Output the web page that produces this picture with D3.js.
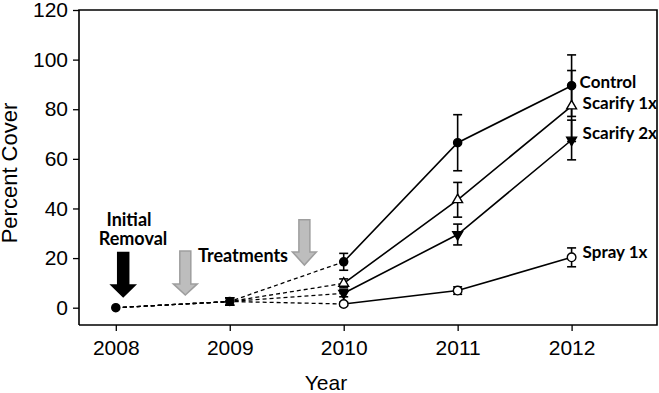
<!DOCTYPE html>
<html>
<head>
<meta charset="utf-8">
<script src="https://cdn.jsdelivr.net/npm/d3@7"></script>
<style>
  body { margin: 0; background: #fff; }
  svg { display: block; }
  .axis text { font-family: "Liberation Sans", Arial, sans-serif; font-size: 21px; fill: #000; }
  .axis line { stroke: #000; stroke-width: 1.3; }
  .note { font-family: Lato, "Open Sans", sans-serif; font-weight: bold; font-size: 18px; fill: #000; }
  .label { font-family: Lato, "Open Sans", sans-serif; font-weight: bold; font-size: 17px; fill: #000; }
</style>
</head>
<body>
<div id="chart"></div>
<script>
// Data (mean percent cover, +/- error)
const years = [2008, 2009, 2010, 2011, 2012];
const yTicks = [0, 20, 40, 60, 80, 100, 120];

const controlMean  = [0, 2.5, 18.5, 66.5, 89.5];
const controlErr   = [0, 1.5, 3.4, 11.3, 12.4];
const scarify1Mean = [0, 2.5, 9.8, 43.5, 81.3];
const scarify1Err  = [0, 1.5, 1.8, 7.0, 14.3];
const scarify2Mean = [0, 2.5, 5.8, 29.5, 67.6];
const scarify2Err  = [0, 1.5, 1.4, 4.2, 8.0];
const sprayMean    = [0, 2.5, 1.5, 6.9, 20.3];
const sprayErr     = [0, 1.5, 0.7, 1.5, 3.8];

// drawn back to front so Control's filled dot sits on top in 2008/2009
const series = [
  { name: "Spray 1x",   mean: sprayMean,    err: sprayErr,    symbol: d3.symbolCircle,   size: 58, fill: "#fff", rotate: 0,   dy: 1 },
  { name: "Scarify 2x", mean: scarify2Mean, err: scarify2Err, symbol: d3.symbolTriangle, size: 42, fill: "#000", rotate: 180, dy: -1 },
  { name: "Scarify 1x", mean: scarify1Mean, err: scarify1Err, symbol: d3.symbolTriangle, size: 42, fill: "#fff", rotate: 0,   dy: 3 },
  { name: "Control",    mean: controlMean,  err: controlErr,  symbol: d3.symbolCircle,   size: 52, fill: "#000", rotate: 0,   dy: 2 }
];

// arrows: x in years, top/headStart/tip in percent
const arrows = [
  { x: 2008.065, top: 22.3, head: 9.2,  tip: 4.4,  fill: "#000",    stroke: "#000" },
  { x: 2008.61,  top: 22.9, head: 9.6,  tip: 5.1,  fill: "#bdbdbd", stroke: "#9e9e9e" },
  { x: 2009.655, top: 35.5, head: 22.5, tip: 17.2, fill: "#bdbdbd", stroke: "#9e9e9e" }
];

const width = 659, height = 393;
const plotLeft = 79, plotRight = 657, plotTop = 10, axisY = 325;

const svg = d3.select("#chart").append("svg")
  .attr("width", width)
  .attr("height", height);

const x = d3.scaleLinear().domain([2008, 2012]).range([115.8, 571.6]);
const y = d3.scaleLinear().domain([0, 120]).range([307.7, plotTop]);

// axes
svg.append("g")
  .attr("class", "axis")
  .attr("transform", `translate(${plotLeft},0)`)
  .call(d3.axisLeft(y).tickValues(yTicks).tickSize(6).tickPadding(5))
  .call(g => g.select(".domain").remove());

svg.append("g")
  .attr("class", "axis")
  .attr("transform", `translate(0,${axisY})`)
  .call(d3.axisBottom(x).tickValues(years).tickFormat(d3.format("d")).tickSize(6).tickPadding(9))
  .call(g => g.select(".domain").remove());

svg.append("text")
  .attr("transform", "translate(17,173) rotate(-90)")
  .attr("text-anchor", "middle")
  .style("font-family", "Liberation Sans, Arial, sans-serif")
  .style("font-size", "22px")
  .text("Percent Cover");

svg.append("text")
  .attr("x", 326)
  .attr("y", 390)
  .attr("text-anchor", "middle")
  .style("font-family", "Liberation Sans, Arial, sans-serif")
  .style("font-size", "21px")
  .text("Year");

// annotation arrows
const shaftW = 11, headW = 24;
arrows.forEach(a => {
  const cx = x(a.x), yt = y(a.top), yh = y(a.head), yp = y(a.tip);
  const pts = [
    [cx - shaftW / 2, yt], [cx + shaftW / 2, yt], [cx + shaftW / 2, yh],
    [cx + headW / 2, yh], [cx, yp], [cx - headW / 2, yh], [cx - shaftW / 2, yh]
  ];
  svg.append("path")
    .attr("d", d3.line()(pts) + "Z")
    .attr("fill", a.fill)
    .attr("stroke", a.stroke)
    .attr("stroke-width", 1.5)
    .attr("stroke-linejoin", "miter");
});

svg.append("text").attr("class", "note")
  .attr("x", 129).attr("y", 226).attr("text-anchor", "middle").text("Initial");
svg.append("text").attr("class", "note")
  .attr("x", 133).attr("y", 245).attr("text-anchor", "middle").text("Removal");
svg.append("text").attr("class", "note")
  .attr("x", 243).attr("y", 262).attr("text-anchor", "middle").text("Treatments");

// lines: dashed before 2010, solid after
const line = d3.line().x(d => x(d[0])).y(d => y(d[1]));
series.forEach(s => {
  const pts = years.map((yr, i) => [yr, s.mean[i]]);
  svg.append("path")
    .attr("d", line(pts.slice(0, 3)))
    .attr("fill", "none")
    .attr("stroke", "#000")
    .attr("stroke-width", 1.3)
    .attr("stroke-dasharray", "4,3");
  svg.append("path")
    .attr("d", line(pts.slice(2)))
    .attr("fill", "none")
    .attr("stroke", "#000")
    .attr("stroke-width", 1.6);
});

// error bars
const capW = 4.5;
series.forEach(s => {
  years.forEach((yr, i) => {
    if (!s.err[i]) return;
    const cx = x(yr), y1 = y(s.mean[i] + s.err[i]), y0 = y(s.mean[i] - s.err[i]);
    const g = svg.append("g").attr("stroke", "#000").attr("stroke-width", 1.6);
    g.append("line").attr("x1", cx).attr("x2", cx).attr("y1", y1).attr("y2", y0);
    g.append("line").attr("x1", cx - capW).attr("x2", cx + capW).attr("y1", y1).attr("y2", y1);
    g.append("line").attr("x1", cx - capW).attr("x2", cx + capW).attr("y1", y0).attr("y2", y0);
  });
});

// markers (2008/2009 share one filled dot)
series.forEach(s => {
  const sym = d3.symbol().type(s.symbol).size(s.size);
  years.forEach((yr, i) => {
    if (i < 2 && s.name !== "Control") return;
    svg.append("path")
      .attr("d", sym())
      .attr("transform", `translate(${x(yr)},${y(s.mean[i])}) rotate(${s.rotate})`)
      .attr("fill", s.fill)
      .attr("stroke", "#000")
      .attr("stroke-width", 1.4);
  });
});

// series labels at the right
series.forEach(s => {
  const last = s.mean.length - 1;
  svg.append("text")
    .attr("class", "label")
    .attr("x", x(years[last]) + (s.name === "Control" ? 8 : 11))
    .attr("y", y(s.mean[last]) + s.dy)
    .text(s.name);
});

// frame
svg.append("path")
  .attr("d", `M${plotLeft},${axisY}V${plotTop}H${plotRight}V${axisY}H${plotLeft}`)
  .attr("fill", "none")
  .attr("stroke", "#000")
  .attr("stroke-width", 1.6);
</script>
</body>
</html>
